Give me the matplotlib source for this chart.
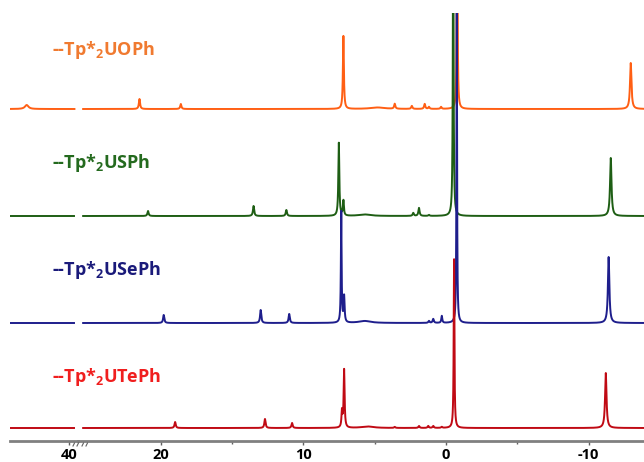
import numpy as np
import matplotlib
matplotlib.use('Agg')
import matplotlib.pyplot as plt
from matplotlib.ticker import FixedLocator, FixedFormatter

plt.rcParams['font.family'] = ['Open Sans', 'DejaVu Sans']
plt.rcParams['mathtext.fontset'] = 'custom'
plt.rcParams['mathtext.rm'] = 'Open Sans:bold'
plt.rcParams['mathtext.it'] = 'Open Sans:bold'
plt.rcParams['mathtext.bf'] = 'Open Sans:bold'

# spectra: peak shift (ppm), height (a.u.), half width (ppm)
names = [r'--Tp*$_2$UOPh', r'--Tp*$_2$USPh', r'--Tp*$_2$USePh', r'--Tp*$_2$UTePh']
offsets = [332, 225, 118, 13]
line_colors = ['#FF5F14', '#1E5E14', '#1E1E8C', '#C00A14']
text_colors = ['#F07A30', '#246A1E', '#1A1A7A', '#F01E1E']

uoph_shift = [43.0, 21.5, 18.6, 7.2, 4.8, 3.6, 2.4, 1.5, 1.2, 0.35, -0.78, -12.95]
uoph_height = [4, 10, 5, 73, 1.5, 5, 3, 5, 2, 2, 320, 46]
uoph_width = [0.15, 0.05, 0.05, 0.04, 0.6, 0.05, 0.05, 0.05, 0.05, 0.05, 0.025, 0.06]

usph_shift = [20.9, 13.5, 11.2, 7.52, 7.2, 5.7, 2.3, 1.9, 1.2, -0.5, -11.55]
usph_height = [5, 10, 6, 73, 15, 1.5, 3, 8, 1, 320, 58]
usph_width = [0.05, 0.05, 0.05, 0.04, 0.04, 0.5, 0.05, 0.05, 0.05, 0.03, 0.06]

useph_shift = [19.8, 13.0, 11.0, 7.35, 7.15, 5.7, 1.2, 0.9, 0.3, -0.75, -11.4]
useph_height = [8, 13, 9, 111, 26, 2, 2, 4, 7, 320, 66]
useph_width = [0.05, 0.05, 0.05, 0.03, 0.04, 0.5, 0.05, 0.05, 0.04, 0.025, 0.06]

utephshift = [19.0, 12.7, 10.8, 7.3, 7.15, 5.5, 3.6, 1.9, 1.25, 0.9, 0.3, -0.56, -11.2]
utephheight = [6, 9, 5, 16, 58, 1.5, 1, 2, 2, 2, 1, 169, 55]
utephwidth = [0.05, 0.05, 0.05, 0.04, 0.04, 0.5, 0.05, 0.05, 0.05, 0.05, 0.05, 0.03, 0.06]

peaks = [(uoph_shift, uoph_height, uoph_width),
         (usph_shift, usph_height, usph_width),
         (useph_shift, useph_height, useph_width),
         (utephshift, utephheight, utephwidth)]


def spectrum(ppm, shifts, heights, widths):
    y = np.zeros_like(ppm)
    for s, h, w in zip(shifts, heights, widths):
        y += h * w**2 / ((ppm - s)**2 + w**2)
    return y


ppm_left = np.linspace(44.17, 39.65, 800)
ppm_right = np.linspace(25.45, -13.88, 16000)

W, H = 644, 462
fig = plt.figure(figsize=(6.44, 4.62), dpi=100)
bot = (H - 441) / H
hgt = 428 / H
axL = fig.add_axes([10 / W, bot, 68 / W, hgt])
axR = fig.add_axes([78 / W, bot, 566 / W, hgt])

for (s, h, w), off, c in zip(peaks, offsets, line_colors):
    axL.plot(ppm_left, off + spectrum(ppm_left, s, h, w), color=c, lw=1.4)
    axR.plot(ppm_right, off + spectrum(ppm_right, s, h, w), color=c, lw=1.4)

axL.set_xlim(44.17, 39.4)
axR.set_xlim(25.81, -13.88)
for ax in (axL, axR):
    ax.set_ylim(0, 428)
    for sp in ['top', 'left', 'right']:
        ax.spines[sp].set_visible(False)
    ax.spines['bottom'].set_color('#808080')
    ax.spines['bottom'].set_linewidth(2)
    ax.set_yticks([])
    ax.tick_params(axis='x', which='both', direction='out', color='#606060',
                   labelsize=10.5, pad=2)
    ax.tick_params(axis='x', which='major', length=3, width=1)
    ax.tick_params(axis='x', which='minor', length=2, width=1)
    ax.patch.set_alpha(0)

axL.xaxis.set_major_locator(FixedLocator([40]))
axL.xaxis.set_major_formatter(FixedFormatter(['40']))
axR.xaxis.set_major_locator(FixedLocator([20, 10, 0, -10]))
axR.xaxis.set_major_formatter(FixedFormatter(['20', '10', '0', '-10']))
axR.xaxis.set_minor_locator(FixedLocator([15, 5, -5]))
for ax in (axL, axR):
    for lab in ax.get_xticklabels():
        lab.set_fontweight('bold')

# axis break marks
for x0 in (73, 77, 82, 86):
    fig.add_artist(plt.Line2D([x0 / W, (x0 + 1.5) / W], [(H - 446) / H, (H - 443) / H],
                              color='#606060', lw=0.8))

label_y = [50, 163, 270, 377]
for name, yy, c in zip(names, label_y, text_colors):
    fig.text(52 / W, (H - yy) / H, name, color=c, fontsize=13, fontweight='bold',
             ha='left', va='center')

fig.savefig('out.png', dpi=100)
